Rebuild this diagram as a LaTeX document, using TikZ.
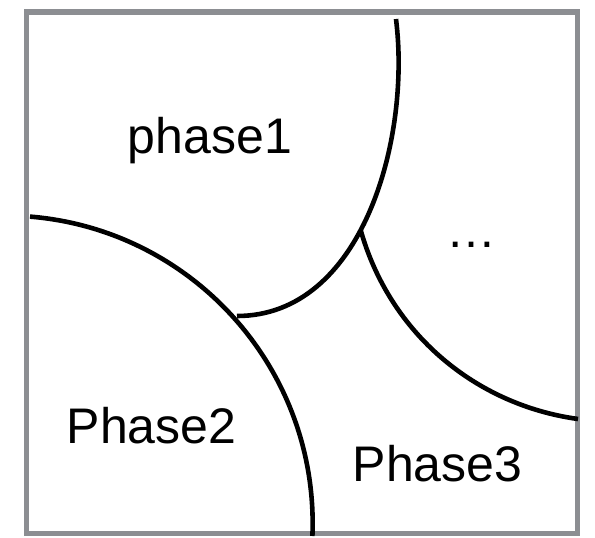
\documentclass[tikz,border=0pt]{standalone}
\usepackage{fontspec}
\setmainfont{Liberation Sans}
\definecolor{framegray}{RGB}{140,142,146}
\tikzset{
  frame/.style={draw=framegray, line width=5.5pt},
  boundary/.style={draw=black, line width=4.6pt},
  label/.style={anchor=base, inner sep=0pt, font=\fontsize{50}{60}\selectfont}
}
\begin{document}
\begin{tikzpicture}[x=1pt, y=-1pt]
  \useasboundingbox (0,0) rectangle (595,538);
  % outer frame
  \draw[frame] (26.5,12) rectangle (577.7,533.3);
  % phase boundaries
  \draw[boundary] (396,19) .. controls (411,140) and (362,316) .. (237,316)
    coordinate[pos=0.55] (j);
  \draw[boundary] (30,216.6) .. controls (194,230) and (319,370.5) .. (312.4,536);
  \coordinate (r) at (578,419);
  \draw[boundary] (j) .. controls (390,334) and (476,405) .. (r);
  % region labels
  \node[label] (p1) at (210,153) {phase1};
  \node[label] (p2) at (151.5,443) {Phase2};
  \node[label] (p3) at (437.5,481) {Phase3};
  \node[label] (pn) at (471,247) {\char"2026};
\end{tikzpicture}
\end{document}
